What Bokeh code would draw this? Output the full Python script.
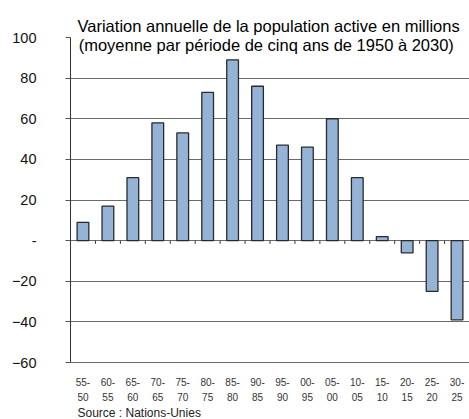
from bokeh.plotting import figure
from bokeh.models import (Range1d, FixedTicker, LinearAxis, Label, Title,
                          ColumnDataSource)
from bokeh.embed import file_html
from bokeh.resources import INLINE

periods = ["1950-55", "1955-60", "1960-65", "1965-70", "1970-75", "1975-80",
           "1980-85", "1985-90", "1990-95", "1995-00", "2000-05", "2005-10",
           "2010-15", "2015-20", "2020-25", "2025-30"]
label_top = ["55-", "60-", "65-", "70-", "75-", "80-", "85-", "90-", "95-",
             "00-", "05-", "10-", "15-", "20-", "25-", "30-"]
label_bottom = ["50", "55", "60", "65", "70", "75", "80", "85", "90",
                "95", "00", "05", "10", "15", "20", "25"]
values = [9, 17, 31, 58, 53, 73, 89, 76, 47, 46, 60, 31, 2, -6, -25, -39]
y_ticks = [-60, -40, -20, 0, 20, 40, 60, 80, 100]

FONT = "Liberation Sans"
n = len(periods)
xc = [i + 0.5 for i in range(n)]

p = figure(width=469, height=419, x_range=Range1d(0, n),
           y_range=Range1d(-60, 100), output_backend="svg",
           toolbar_location=None, min_border_left=70, min_border_right=0,
           min_border_top=37, min_border_bottom=56, x_axis_type=None)
p.outline_line_color = None
p.background_fill_color = "white"

src = ColumnDataSource(dict(x=xc, top=values, name=periods))
p.vbar(x="x", top="top", bottom=0, width=0.47, source=src,
       fill_color="#95B3D7", line_color="#2a2a2a", line_width=1.3)

# small tick marks at category boundaries along the zero line
bx = list(range(1, n))
p.segment(x0=bx, x1=bx, y0=[0] * len(bx), y1=[-1.6] * len(bx),
          line_color="#333333", line_width=1)

# y axis
p.yaxis.ticker = FixedTicker(ticks=y_ticks)
p.yaxis.major_label_overrides = {0: "-"}
p.yaxis.major_label_text_font = FONT
p.yaxis.major_label_text_font_size = "14.5px"
p.yaxis.major_label_text_color = "#111111"
p.yaxis.axis_line_color = "#333333"
p.yaxis.major_tick_out = 5
p.yaxis.major_tick_in = 0
p.yaxis.major_tick_line_color = "#555555"
p.yaxis.minor_tick_line_color = None
p.yaxis.major_label_standoff = 29

p.ygrid.ticker = FixedTicker(ticks=y_ticks)
p.ygrid.grid_line_color = "#6a6a6a"
p.ygrid.grid_line_width = 1

# x axis (two lines of labels)
xa = LinearAxis(ticker=FixedTicker(ticks=xc),
                major_label_overrides=dict(zip(xc, label_top)),
                major_label_text_font=FONT, major_label_text_font_size="10px",
                major_label_text_color="#333333", axis_line_color="#6a6a6a",
                major_tick_line_color=None, minor_tick_line_color=None,
                major_tick_out=0, major_tick_in=0, major_label_standoff=15)
p.add_layout(xa, "below")

xa2 = LinearAxis(ticker=FixedTicker(ticks=xc),
                 major_label_overrides=dict(zip(xc, label_bottom)),
                 major_label_text_font=FONT, major_label_text_font_size="10px",
                 major_label_text_color="#333333", axis_line_color=None,
                 major_tick_line_color=None, minor_tick_line_color=None,
                 major_tick_out=0, major_tick_in=0, major_label_standoff=4)
p.add_layout(xa2, "below")

src_title = Title(text="Source : Nations-Unies", align="left", offset=7,
                  text_font=FONT, text_font_size="12px",
                  text_font_style="normal", text_color="#222222", standoff=0)
p.add_layout(src_title, "below")

# title
p.title.text = "Variation annuelle de la population active en millions"
p.title.align = "left"
p.title.offset = 7
p.title.text_font = FONT
p.title.text_font_size = "16.5px"
p.title.text_font_style = "normal"
p.title.text_color = "black"
p.title.standoff = 5

p.add_layout(Label(x=7.85, y=96.1,
                   text="(moyenne par période de cinq ans de 1950 à 2030)",
                   text_font=FONT, text_font_size="16.5px", text_color="black",
                   text_align="center", text_baseline="middle"))

open("out.html", "w").write(file_html(p, INLINE))
